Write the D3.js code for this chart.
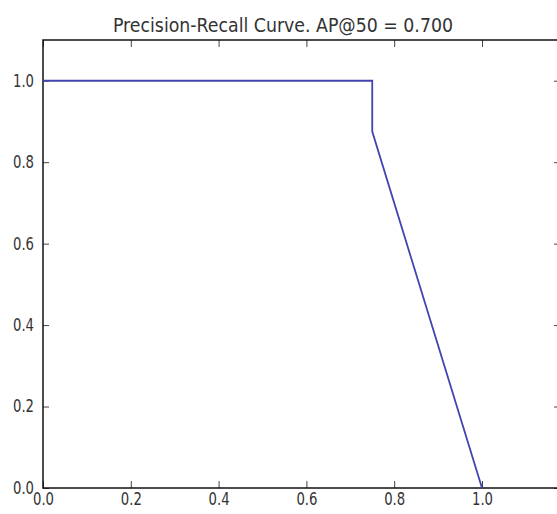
<!DOCTYPE html>
<html>
<head>
<meta charset="utf-8">
<script src="https://cdn.jsdelivr.net/npm/d3@7"></script>
<style>
  body { margin: 0; background: #fff; }
  text { font-family: "DejaVu Sans Condensed", "DejaVu Sans", sans-serif; fill: #333; }
</style>
</head>
<body>
<div class="chart"></div>
<script>
// curve points
var recall = [0.0, 0.75, 0.75, 1.0];
var precision = [1.0, 1.0, 0.875, 0.0];
var xTicks = [0.0, 0.2, 0.4, 0.6, 0.8, 1.0];
var yTicks = [0.0, 0.2, 0.4, 0.6, 0.8, 1.0];
var title = "Precision-Recall Curve. AP@50 = 0.700";

var width = 557, height = 514;
var plotLeft = 43, plotTop = 40, plotBottom = 488, plotRight = 560;

const svg = d3.select(".chart")
  .append("svg")
  .attr("width", width)
  .attr("height", height);

var x = d3.scaleLinear().domain([0, 1]).range([plotLeft, 482]);
var y = d3.scaleLinear().domain([0, 1.1]).range([plotBottom, plotTop]);

// title
svg.append("text")
  .attr("x", 283)
  .attr("y", 32)
  .attr("text-anchor", "middle")
  .attr("font-size", 20)
  .attr("textLength", 340)
  .attr("lengthAdjust", "spacingAndGlyphs")
  .text(title);

//bottom axis, ticks inward
svg.append("g")
  .attr("transform", "translate(0," + plotBottom + ")")
  .call(d3.axisBottom(x).tickValues(xTicks).tickFormat(d3.format(".1f"))
    .tickSizeInner(-7).tickSizeOuter(0).tickPadding(5));

//top ticks
svg.append("g")
  .attr("transform", "translate(0," + plotTop + ")")
  .call(d3.axisTop(x).tickValues(xTicks).tickFormat("")
    .tickSizeInner(-7).tickSizeOuter(0));

//left axis
svg.append("g")
  .attr("transform", "translate(" + plotLeft + ",0)")
  .call(d3.axisLeft(y).tickValues(yTicks).tickFormat(d3.format(".1f"))
    .tickSizeInner(-6).tickSizeOuter(0).tickPadding(9));

//right ticks
svg.append("g")
  .attr("transform", "translate(" + plotRight + ",0)")
  .call(d3.axisRight(y).tickValues(yTicks).tickFormat("")
    .tickSizeInner(-6).tickSizeOuter(0));

svg.selectAll(".domain").remove();
svg.selectAll(".tick line").attr("stroke", "#444").attr("stroke-width", 1);
svg.selectAll(".tick text")
  .attr("font-size", 17)
  .attr("textLength", 21)
  .attr("lengthAdjust", "spacingAndGlyphs")
  .style("font-family", '"DejaVu Sans Condensed", "DejaVu Sans", sans-serif')
  .attr("fill", "#333");

//frame
svg.append("rect")
  .attr("x", plotLeft)
  .attr("y", plotTop)
  .attr("width", plotRight - plotLeft)
  .attr("height", plotBottom - plotTop)
  .attr("fill", "none")
  .attr("stroke", "#111")
  .attr("stroke-width", 1.5);

//curve
var pts = recall.map((r, i) => [r, precision[i]]);
svg.append("path")
  .datum(pts)
  .attr("fill", "none")
  .attr("stroke", "#4444b0")
  .attr("stroke-width", 1.8)
  .attr("d", d3.line().x((d) => x(d[0])).y((d) => y(d[1])));
</script>
</body>
</html>
